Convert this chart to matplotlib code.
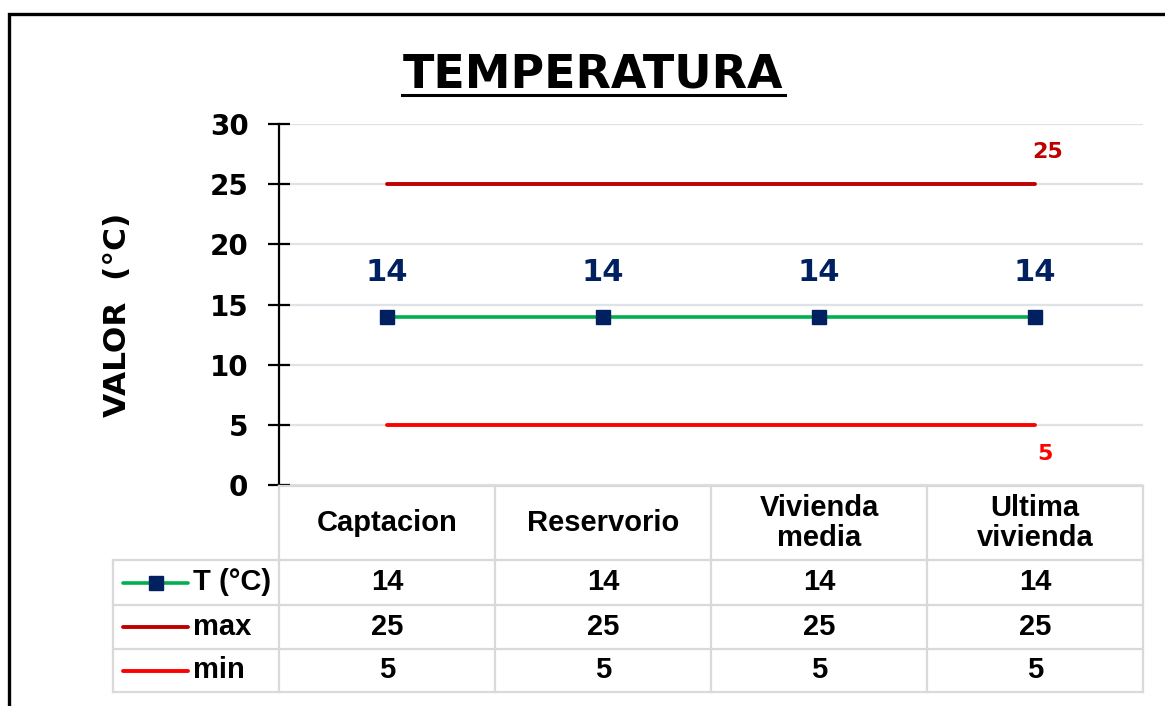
import matplotlib
matplotlib.use("Agg")
import matplotlib.pyplot as plt
from matplotlib.lines import Line2D
from matplotlib.transforms import blended_transform_factory

categories = ["Captacion", "Reservorio", "Vivienda\nmedia", "Ultima\nvivienda"]
temp = [14, 14, 14, 14]
tmax = [25, 25, 25, 25]
tmin = [5, 5, 5, 5]
series_names = ["T (°C)", "max", "min"]
yticks = [0, 5, 10, 15, 20, 25, 30]

W, H = 1165, 706
fig = plt.figure(figsize=(W / 100, H / 100), dpi=100)
fig.patch.set_facecolor("white")

def fx(px):
    return px / W

def fy(py):
    return 1 - py / H

# main axes
L, R, T, B = 279, 1143, 124, 485
ax = fig.add_axes([fx(L), fy(B), fx(R) - fx(L), fy(T) - fy(B)])
x = list(range(len(categories)))
ax.set_xlim(-0.5, len(categories) - 0.5)
ax.set_ylim(0, 30)
ax.set_yticks(yticks)
ax.set_xticks([])
for s in ["top", "right", "bottom"]:
    ax.spines[s].set_visible(False)
ax.spines["left"].set_color("black")
ax.spines["left"].set_linewidth(1.6)
ax.tick_params(axis="y", direction="inout", length=16, width=1.6, pad=14,
               labelsize=20, color="black")
for lab in ax.get_yticklabels():
    lab.set_fontweight("heavy")
    lab.set_fontfamily("DejaVu Sans")
ax.grid(axis="y", color="#dfe2e7", linewidth=1.6)
ax.set_axisbelow(True)

c_green = "#00b050"
c_navy = "#002060"
c_dred = "#c00000"
c_red = "#ff0000"

ax.plot(x, tmax, color=c_dred, lw=2.8, solid_capstyle="round", zorder=3)
ax.plot(x, tmin, color=c_red, lw=2.8, solid_capstyle="round", zorder=3)
ax.plot(x, temp, color=c_green, lw=2.6, marker="s", markersize=10.5,
        markerfacecolor=c_navy, markeredgecolor=c_navy, zorder=4)

for xi, v in zip(x, temp):
    ax.annotate(str(v), (xi, v), xytext=(0, 32), textcoords="offset points",
                ha="center", va="center", color=c_navy, fontsize=22,
                fontweight="bold", family="DejaVu Sans")
ax.annotate(str(tmax[-1]), (x[-1], tmax[-1]), xytext=(9, 23), textcoords="offset points",
            ha="center", va="center", color=c_dred, fontsize=16,
            fontweight="bold", family="DejaVu Sans")
ax.annotate(str(tmin[-1]), (x[-1], tmin[-1]), xytext=(7, -21), textcoords="offset points",
            ha="center", va="center", color=c_red, fontsize=16,
            fontweight="bold", family="DejaVu Sans")

# y label
fig.text(fx(118), fy(315), "VALOR  (°C)", rotation=90, ha="center", va="center",
         fontsize=22.5, fontweight="bold", family="DejaVu Sans")

# title
fig.text(fx(593), fy(88), "TEMPERATURA", ha="center", va="baseline",
         fontsize=33, fontweight="bold", family="DejaVu Sans")
fig.add_artist(Line2D([fx(402), fx(785)], [fy(94.5), fy(94.5)], color="black", lw=2.2))

# outer border (left and top visible)
fig.add_artist(Line2D([fx(8.5), fx(8.5), fx(1200)], [fy(760), fy(13.5), fy(13.5)],
                      color="black", lw=2.4, solid_joinstyle="miter"))

# data table
gc = "#d9d9d9"
glw = 1.6
tleft = 113
hdr_top, hdr_bot = 486, 560
row_bounds = [560, 605, 649, 692]
col_edges = [279, 495, 711, 927, 1143]

def hline(x0, x1, y):
    fig.add_artist(Line2D([fx(x0), fx(x1)], [fy(y), fy(y)], color=gc, lw=glw))

def vline(xp, y0, y1):
    fig.add_artist(Line2D([fx(xp), fx(xp)], [fy(y0), fy(y1)], color=gc, lw=glw))

hline(col_edges[0], col_edges[-1], hdr_top)
for yb in row_bounds:
    hline(tleft, col_edges[-1], yb)
for ce in col_edges:
    vline(ce, hdr_top, row_bounds[-1])
vline(tleft, row_bounds[0], row_bounds[-1])

tr = blended_transform_factory(ax.transData, fig.transFigure)
tfont = dict(family="Liberation Sans", fontweight="bold", fontsize=21)
for xi, cat in zip(x, categories):
    fig.text(xi, fy((hdr_top + hdr_bot) / 2), cat, transform=tr, ha="center",
             va="center", linespacing=1.12, **tfont)

rows = [temp, tmax, tmin]
styles = [dict(color=c_green, marker="s", mfc=c_navy, mec=c_navy, ms=10.5, lw=2.6),
          dict(color=c_dred, lw=2.8),
          dict(color=c_red, lw=2.8)]
for r, (name, vals, st) in enumerate(zip(series_names, rows, styles)):
    yc = (row_bounds[r] + row_bounds[r + 1]) / 2
    for xi, v in zip(x, vals):
        fig.text(xi, fy(yc), str(v), transform=tr, ha="center", va="center", **tfont)
    if "marker" in st:
        ln = Line2D([fx(123), fx(155.5), fx(188)], [fy(yc)] * 3, solid_capstyle="round",
                    markevery=[1], **st)
    else:
        ln = Line2D([fx(123), fx(188)], [fy(yc), fy(yc)], solid_capstyle="round", **st)
    fig.add_artist(ln)
    fig.text(fx(193), fy(yc), name, ha="left", va="center", **tfont)

fig.savefig("out.png", dpi=100, facecolor="white")
